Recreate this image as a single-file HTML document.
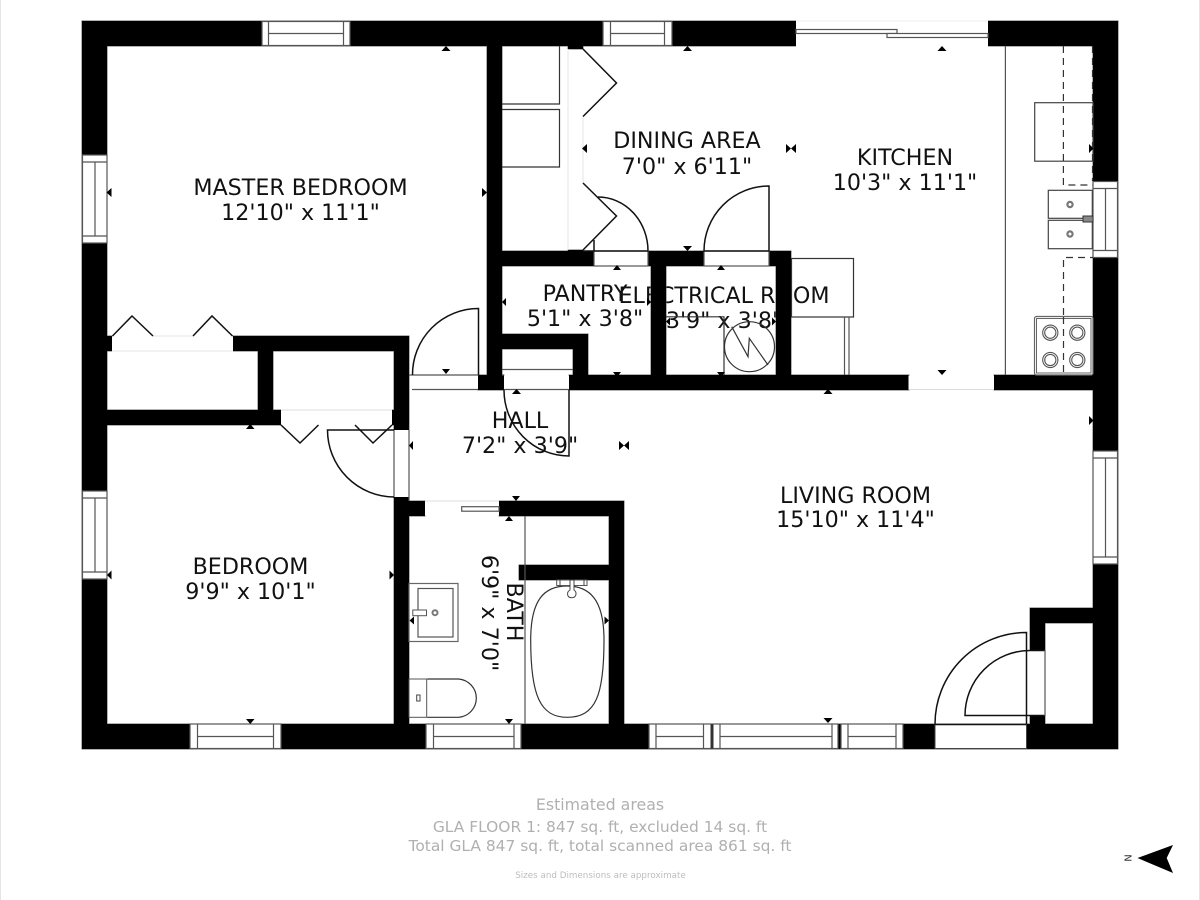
<!DOCTYPE html>
<html>
<head>
<meta charset="utf-8">
<style>
html,body{margin:0;padding:0;background:#fff;width:1200px;height:900px;overflow:hidden}
svg{display:block}
text{font-family:"DejaVu Sans","Liberation Sans",sans-serif}
.l{font-size:22.2px;fill:#111;text-anchor:middle}
.f{font-size:15.45px;fill:#b0b0b0;text-anchor:middle}
.t{stroke:#333;stroke-width:1.2;fill:none}
.k{stroke:#111;stroke-width:1.5;fill:none}
.g{stroke:#555;stroke-width:1.2;fill:none}
.w{fill:#fff;stroke:#555;stroke-width:1.2}
</style>
</head>
<body>
<svg width="1200" height="900" viewBox="0 0 1200 900" xmlns="http://www.w3.org/2000/svg">
<rect width="1200" height="900" fill="#fff"/>
<path d="M0.5 0V900M1199.5 0V900" stroke="#e4e4e4" stroke-width="1"/>

<!-- labels -->
<text class="l" x="300.5" y="195">MASTER BEDROOM</text>
<text class="l" x="300.5" y="220">12'10" x 11'1"</text>
<text class="l" x="687" y="148">DINING AREA</text>
<text class="l" x="687" y="174">7'0" x 6'11"</text>
<text class="l" x="905" y="165">KITCHEN</text>
<text class="l" x="905" y="190">10'3" x 11'1"</text>
<text class="l" x="585" y="301">PANTRY</text>
<text class="l" x="585" y="326">5'1" x 3'8"</text>
<text class="l" x="724" y="303">ELECTRICAL ROOM</text>
<text class="l" x="724" y="328">3'9" x 3'8"</text>
<text class="l" x="520" y="428">HALL</text>
<text class="l" x="520" y="453">7'2" x 3'9"</text>
<text class="l" x="855.5" y="503">LIVING ROOM</text>
<text class="l" x="855.5" y="527">15'10" x 11'4"</text>
<text class="l" x="250.5" y="574">BEDROOM</text>
<text class="l" x="250.5" y="599">9'9" x 10'1"</text>
<text class="l" transform="translate(507 612) rotate(90)">BATH</text>
<text class="l" transform="translate(482 613) rotate(90)">6'9" x 7'0"</text>

<!-- walls -->
<path fill="#000" stroke="#666" stroke-width="1" paint-order="stroke" d="
M82 21h1036v25H82z M82 21h25v728H82z M82 724h1036v25H82z M1093 21h25v728h-25z
M487 46h15v344h-15z M487 251h107v15H487z M648 251h56v15h-56z M769 251h22v15h-22z
M651 251h15v139h-15z M776 251h15v139h-15z
M478 375h26v15h-26z M569 375h340v15H569z M994 375h100v15H994z
M502 334h86v15h-86z M573 334h15v41h-15z
M233 336h176v15H233z M107 336h5v15h-5z M258 336h15v89h-15z M107 410h174v15H107z
M392 410h2v15h-2z M394 336h15v94h-15z M394 497h15v227h-15z
M409 501h16v15h-16z M499 501h125v15H499z M609 501h15v223h-15z M519 565h90v15h-90z
M1030 608h15v42h-15z M1030 716h15v8h-15z M1030 608h63v15h-63z
M568 46h15v3h-15z M568 250h15v2h-15z"/>

<!-- openings -->
<rect x="796" y="20" width="192" height="27" fill="#fff"/>
<path d="M796 21H988" stroke="#eee"/>
<rect x="935" y="724.5" width="91.5" height="24" fill="#fff" stroke="#444" stroke-width="1"/>
<rect x="908.5" y="375.5" width="85.5" height="14" fill="#fff"/>
<path d="M908.5 389.5H994" stroke="#ddd"/>
<rect x="112" y="336.5" width="121" height="14" fill="#fff"/>
<path d="M112 351H233M153 336H193" stroke="#e6e6e6"/>
<rect x="281" y="410.5" width="111" height="14" fill="#fff"/>
<path d="M281 410H392" stroke="#ddd"/>
<rect x="425" y="501.5" width="74" height="14" fill="#fff"/>
<path d="M425 501H499" stroke="#ddd"/>

<!-- windows: top -->
<rect class="w" x="262" y="21.5" width="88" height="24"/><path class="g" d="M268.5 21.5V45.5M343.5 21.5V45.5M268.5 33.5H343.5"/>
<rect class="w" x="603" y="21.5" width="69" height="24"/><path class="g" d="M610.5 21.5V45.5M664.5 21.5V45.5M610.5 33.5H664.5"/>
<!-- windows: left -->
<rect class="w" x="82.5" y="155" width="24.5" height="88"/><path class="g" d="M82.5 162H107M82.5 236H107M95 162V236"/>
<rect class="w" x="82.5" y="491" width="24.5" height="88"/><path class="g" d="M82.5 498H107M82.5 572H107M95 498V572"/>
<!-- windows: right -->
<rect class="w" x="1093" y="181.5" width="24.5" height="76"/><path class="g" d="M1093 188.5H1117.5M1093 250.5H1117.5M1105.5 188.5V250.5"/>
<rect class="w" x="1093" y="451" width="24.5" height="113"/><path class="g" d="M1093 458H1117.5M1093 557H1117.5M1105.5 458V557"/>
<!-- windows: bottom -->
<rect class="w" x="190" y="724" width="91" height="24.5"/><path class="g" d="M197.5 724V748.5M273.5 724V748.5M197.5 736.5H273.5"/>
<rect class="w" x="426" y="724" width="95" height="24.5"/><path class="g" d="M433.5 724V748.5M514 724V748.5M433.5 736.5H514"/>
<rect class="w" x="649" y="724" width="62" height="24.5"/><path class="g" d="M656 724V748.5M703.5 724V748.5M656 736.5H703.5"/>
<rect class="w" x="713" y="724" width="125" height="24.5"/><path class="g" d="M720 724V748.5M832 724V748.5M720 736.5H832"/>
<rect class="w" x="841" y="724" width="62" height="24.5"/><path class="g" d="M848 724V748.5M896 724V748.5M848 736.5H896"/>

<!-- sliding door, top -->
<rect class="w" x="796" y="29.5" width="101" height="4"/>
<rect class="w" x="887" y="33.5" width="101" height="4"/>

<!-- door thresholds -->
<rect x="594" y="251" width="54" height="15" class="w"/>
<rect x="704" y="251" width="65" height="15" class="w"/>
<rect x="504" y="375.5" width="65" height="14" fill="#fff"/>
<path class="g" d="M504 389.5H569M502 369.5H573M502 375H504"/>
<rect x="409.5" y="375.5" width="68.5" height="14" fill="#fff"/>
<path class="g" d="M409.5 375H478.5M412 389.5H478"/>
<rect x="394.5" y="430" width="14.5" height="67" fill="#fff"/>
<path class="g" d="M394 430V497M409 430V501"/>

<!-- closet shelves -->
<path class="t" d="M502 104H559.5V46M502 109.5H559.5V167H502"/>
<path d="M583 116V183M568 49V250" stroke="#e6e6e6" stroke-width="1" fill="none"/>

<!-- bifolds -->
<path class="k" d="M583 49L616.5 83L583 116.5M583 183L616.5 216L583 250"/>
<path class="k" d="M112.5 336L132 316L153 336M193 336L212 316L232.5 336"/>
<path class="k" d="M281 425L300 443L318.5 425M355 425L373 443L392 425"/>

<!-- doors -->
<path class="k" d="M598 197A50 54 0 0 1 648 251M594 240V251M583 251H648"/>
<path class="k" d="M769 251V186A65 65 0 0 0 704 251H769"/>
<path class="k" d="M478.5 375V308.5A66 66 0 0 0 412.5 375"/>
<path class="k" d="M394 430H327.5A67 67 0 0 0 394 497"/>
<path class="k" d="M569 390V456A65 66 0 0 1 504 390"/>
<path class="k" d="M1026.5 724V632.5A91.5 91.5 0 0 0 935 724"/>
<path class="k" d="M1045 715.5H965A65 65 0 0 1 1030 650.5H1045"/>
<path class="g" d="M1045 650V716"/>
<path class="k" d="M935 724.5H1026.5"/>

<!-- counter box + hvac -->
<rect x="791.5" y="258.5" width="62" height="58.5" fill="none" stroke="#333" stroke-width="1.2"/>
<path class="g" d="M844.5 317V375M849 317V375"/>
<path class="t" d="M666 316.8H724V375"/>
<circle cx="749.5" cy="346.7" r="25" class="t"/>
<path class="t" d="M731.7 326.7L748 356.7L749.3 338.3L768 365"/>

<!-- kitchen -->
<path class="g" d="M1005.4 46V375"/>
<rect x="1034.7" y="102.7" width="58.3" height="58.5" fill="none" stroke="#444" stroke-width="1.2"/>
<path stroke="#333" stroke-width="1.2" fill="none" stroke-dasharray="7 5" d="M1063.4 46V185H1093M1063.5 375V257.5H1093M1092.5 46V181"/>
<rect x="1048.3" y="190.3" width="44" height="28" fill="#fff" stroke="#444" stroke-width="1.2"/>
<rect x="1048.3" y="220.3" width="44" height="28.4" fill="#fff" stroke="#444" stroke-width="1.2"/>
<circle cx="1070" cy="204.5" r="2.6" fill="none" stroke="#777" stroke-width="2.2"/>
<circle cx="1070" cy="234" r="2.6" fill="none" stroke="#777" stroke-width="2.2"/>
<rect x="1083" y="216" width="10" height="6" fill="#888" stroke="#333"/>
<rect x="1034.5" y="316.5" width="58.5" height="58.5" rx="2" fill="#fff" stroke="#666" stroke-width="1.2"/>
<rect x="1036.5" y="318.5" width="54.5" height="54.5" fill="none" stroke="#666" stroke-width="1"/>
<g fill="none" stroke="#555" stroke-width="1.1">
<circle cx="1050.3" cy="332.7" r="7.6"/><circle cx="1050.3" cy="332.7" r="5.6"/>
<circle cx="1077.3" cy="332.7" r="7.6"/><circle cx="1077.3" cy="332.7" r="5.6"/>
<circle cx="1050.3" cy="360" r="7.6"/><circle cx="1050.3" cy="360" r="5.6"/>
<circle cx="1077.3" cy="360" r="7.6"/><circle cx="1077.3" cy="360" r="5.6"/>
</g>
<path stroke="#333" stroke-width="1.2" stroke-dasharray="7 5" d="M1063.5 317V375"/>

<!-- bath -->
<path class="g" d="M525 516V724"/>
<rect class="w" x="461.7" y="506.7" width="37.3" height="4.5"/>
<rect x="409" y="583.5" width="49" height="58" fill="#fff" stroke="#666" stroke-width="1.2"/>
<rect x="418" y="588.5" width="35" height="48.5" fill="none" stroke="#555" stroke-width="1.2"/>
<rect x="412.8" y="610" width="13.7" height="5.7" fill="#fff" stroke="#555"/>
<circle cx="435" cy="612.7" r="2.5" fill="none" stroke="#777" stroke-width="2"/>
<rect x="409" y="679" width="17.7" height="38.3" fill="#fff" stroke="#555" stroke-width="1"/>
<path class="t" d="M426.7 679H458A19.2 19.2 0 0 1 458 717.3H426.7" transform="translate(0.5 0)"/>
<rect x="416.7" y="695" width="3.3" height="6" fill="none" stroke="#444"/>
<path class="t" d="M567 586C590 586 604 600 604 640C604 695 596 717.3 567 717.3C540 717.3 530.7 695 530.7 640C530.7 600 544 586 567 586Z"/>
<rect x="556.7" y="580" width="30.3" height="5.5" fill="#fff" stroke="#555"/>
<path d="M560 580V585.5M584 580V585.5M570 580H574V590C577 592 577 597.7 571.7 597.7C566.5 597.7 566.5 592 570 590Z" fill="#fff" stroke="#444" stroke-width="1"/>

<!-- dimension markers -->
<g fill="#000">
<path d="M441.5 51h9l-4.5-5z"/><path d="M442 369h8l-4 5z"/>
<path d="M111.5 188v9l-5-4.5z"/><path d="M482 188v9l5-4.5z"/>
<path d="M683 51h9l-4.5-5z"/><path d="M683 246h9l-4.5 5z"/>
<path d="M587 144v9l-5-4.5z"/><path d="M786 144v9l5-4.5z"/><path d="M796 144v9l-5-4.5z"/>
<path d="M937.5 51h9l-4.5-5z"/><path d="M937.5 370h9l-4.5 5z"/><path d="M1089 144v9l4.5-4.5z"/>
<path d="M613 270h8l-4-5z"/><path d="M717 270h8l-4-5z"/>
<path d="M613 372h8l-4 5z"/><path d="M717 372h8l-4 5z"/>
<path d="M506 298v8l-4-4z"/><path d="M647 298v8l4-4z"/>
<path d="M670 317.5v8l-4-4z"/><path d="M772 317.5v8l4-4z"/>
<path d="M512 394h9l-4.5-5z"/><path d="M823.5 394h9l-4.5-5z"/>
<path d="M413 441v9l-4-4.5z"/><path d="M619 441v9l5-4.5z"/><path d="M629 441v9l-5-4.5z"/>
<path d="M1089 416v9l4.5-4.5z"/>
<path d="M512 496h8l-4 5z"/><path d="M823.5 718h9l-4.5 5z"/>
<path d="M246 429h8.5l-4.25-5z"/><path d="M246 719h8.5l-4.25 5z"/>
<path d="M111.5 570.5v9l-4.5-4.5z"/><path d="M389.5 570.5v9l4.5-4.5z"/>
<path d="M505 521h8l-4-5z"/><path d="M505 719h8l-4 5z"/>
<path d="M414 616.5v8l-4.5-4z"/><path d="M604.5 616.5v8l4.5-4z"/>
</g>

<!-- footer -->
<text class="f" x="600" y="810" style="font-size:15.8px">Estimated areas</text>
<text class="f" x="600" y="832">GLA FLOOR 1: 847 sq. ft, excluded 14 sq. ft</text>
<text class="f" x="600" y="851">Total GLA 847 sq. ft, total scanned area 861 sq. ft</text>
<text x="600.5" y="878" text-anchor="middle" fill="#bdbdbd" style="font-size:8.75px">Sizes and Dimensions are approximate</text>

<!-- north -->
<path d="M1137.5 858L1173 845L1166.7 858L1173 873Z" fill="#000"/>
<text x="0" y="0" transform="translate(1124.5 858) rotate(90)" text-anchor="middle" style="font-size:10px" fill="#333">N</text>
</svg>
</body>
</html>
